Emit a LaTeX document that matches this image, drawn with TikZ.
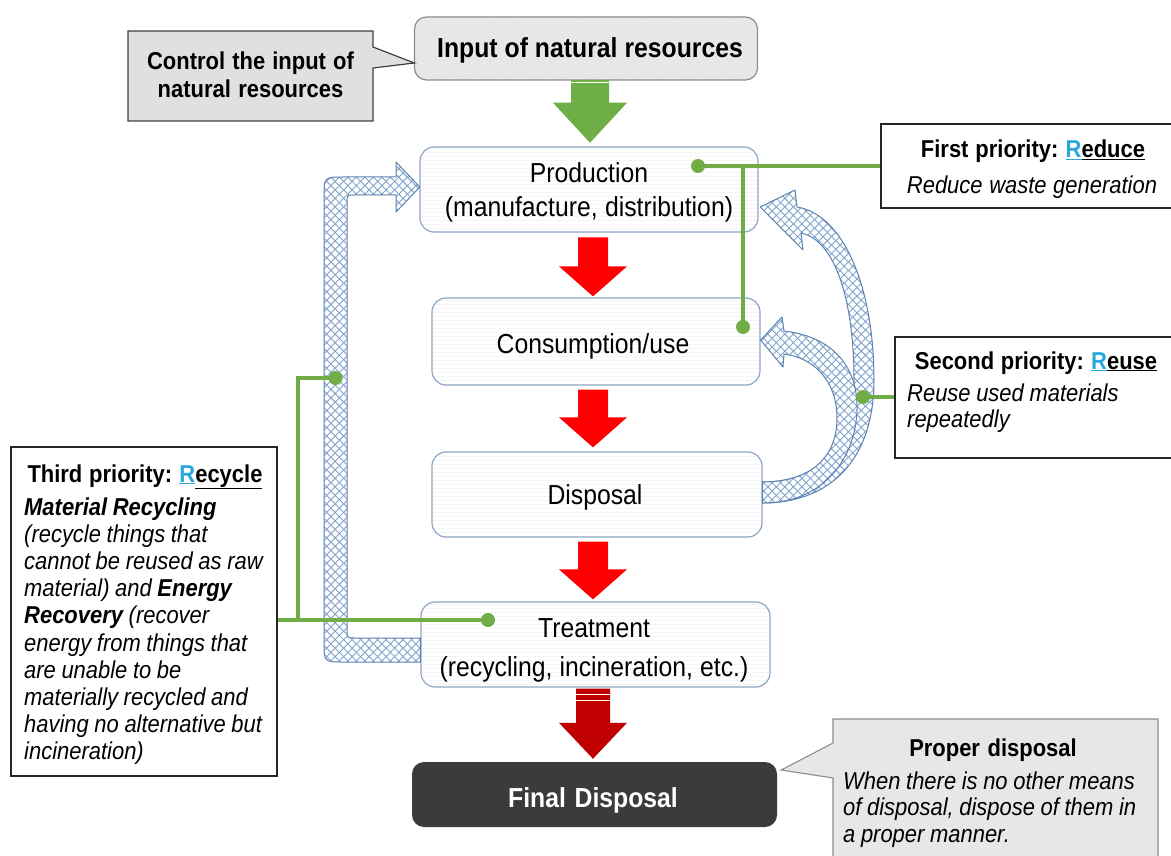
\documentclass[tikz,border=0pt]{standalone}
\usepackage{fontspec}
\setmainfont{Liberation Sans}[FakeStretch=0.9]
\usetikzlibrary{calc,patterns.meta}

\definecolor{gline}{HTML}{70AD47}
\definecolor{garrow}{HTML}{6FAE46}
\definecolor{rarrow}{HTML}{FF0000}
\definecolor{darkred}{HTML}{C00000}
\definecolor{boxedge}{HTML}{8EA6C4}
\definecolor{hatchc}{HTML}{7FA3CC}
\definecolor{hatchedge}{HTML}{5B82B0}
\definecolor{rblue}{HTML}{29A8DF}
\definecolor{finalbg}{HTML}{3B3B3B}
\definecolor{ctrlgray}{HTML}{E0E0E0}
\definecolor{propergray}{HTML}{E8E7E7}

% condensed face: tighten the interword space to match the narrower glyphs
\newcommand\tightspace{\spaceskip=0.23em plus 0.05em minus 0.03em\xspaceskip=0.3em\relax}
\newcommand\fsz[2]{\fontsize{#1}{#2}\selectfont}
\newcommand\bigfont{\fsz{27.5}{34}}
\newcommand\smallfont{\fsz{24.4}{27.2}}
% coloured, underlined initial of the 3R keywords
\newcommand\Rw[2]{\textcolor{rblue}{\underline{#1}}\underline{#2}}

% fat downward arrow between two boxes:
% style, x, upper node, lower node, top gap, tip gap, shaft half width, head half width, head length
\newcommand\blockdown[9]{%
  \coordinate (bt) at ($(#2,0 |- #3.south)+(0,#5)$);
  \coordinate (bp) at ($(#2,0 |- #4.north)+(0,-#6)$);
  \fill[#1] ($(bt)+(-#7,0)$) -- ($(bt)+(#7,0)$) -- ($(bp)+(#7,-#9)$) -- ($(bp)+(#8,-#9)$)
    -- (bp) -- ($(bp)+(-#8,-#9)$) -- ($(bp)+(-#7,-#9)$) -- cycle;}

\begin{document}
\begin{tikzpicture}[x=1pt,y=-1pt,
  mainbox/.style={draw=boxedge, line width=1.2pt, rounded corners=14pt, inner sep=0pt,
    preaction={fill=white},
    pattern={Lines[angle=0,distance=4pt,line width=0.5pt]}, pattern color=black!7},
  inputbox/.style={draw=black!45, line width=1.2pt, rounded corners=12pt, inner sep=0pt,
    preaction={fill=black!10},
    pattern={Lines[angle=45,distance=2.5pt,line width=0.4pt]}, pattern color=black!6},
  finalbox/.style={fill=finalbg, rounded corners=12pt, inner sep=0pt},
  notebox/.style={draw=black!85, line width=1.1pt, fill=white, inner sep=0pt},
  ctrlbox/.style={draw=black!75, line width=1.2pt, fill=ctrlgray},
  properbox/.style={draw=black!45, line width=1.1pt, fill=propergray},
  hatch/.style={preaction={fill=white},
    preaction={pattern={Lines[angle=45,distance=6pt,line width=0.9pt]}, pattern color=hatchc},
    preaction={pattern={Lines[angle=-45,distance=6pt,line width=0.9pt]}, pattern color=hatchc},
    draw=hatchedge, line width=1pt, line join=round},
  gconn/.style={draw=gline, line width=4pt},
  gdot/.style={circle, fill=gline, minimum size=14pt, inner sep=0pt},
  txt/.style={inner sep=0pt, anchor=base, execute at begin node=\tightspace},
  bigtxt/.style={txt, font=\bigfont, align=center, text width=360pt},
  smalltxt/.style={txt, font=\smallfont, align=center, text width=330pt},
  bodytxt/.style={inner sep=0pt, anchor=base west, align=left, font=\smallfont\itshape,
    execute at begin node=\tightspace}]

\useasboundingbox (0,0) rectangle (1171,856);
\fill[white] (0,0) rectangle (1171,856);

% ---------- main flow boxes ----------
\node[inputbox, minimum width=343pt, minimum height=63pt] (input) at (586,48.5) {};
\node[mainbox, minimum width=338pt, minimum height=85pt] (prod) at (589,189.5) {};
\node[mainbox, minimum width=328pt, minimum height=87pt] (cons) at (596,341.5) {};
\node[mainbox, minimum width=330pt, minimum height=85pt] (disp) at (597,494.5) {};
\node[mainbox, minimum width=349pt, minimum height=85pt] (treat) at (595.5,644.5) {};
\node[finalbox, minimum width=365pt, minimum height=65pt] (final) at (594.5,794.5) {};

% ---------- note boxes ----------
\node[notebox, minimum width=310pt, minimum height=84pt] (first) at (1036,166) {};
\node[notebox, minimum width=295pt, minimum height=121pt] (second) at (1042.5,397.5) {};
\node[notebox, minimum width=266pt, minimum height=329pt] (third) at (144,611.5) {};

% ---------- callouts ----------
\path[ctrlbox] (128,31) -- (373,31) -- (373,47) -- (input.west |- 0,63) -- (373,68)
  -- (373,121) -- (128,121) -- cycle;
\path[properbox] (833,719) -- (1158,719) -- (1158,870) -- (833,870) -- (833,778)
  -- ($(final.east |- 0,770)+(4,0)$) -- (833,743) -- cycle;

% ---------- hatched loop arrows ----------
% recycling loop: treatment back to production
\path[hatch] (treat.west |- 0,638) -- (355,638) .. controls (347,638) .. (347,630)
  -- (347,203) .. controls (347,195) .. (355,195) -- (396,195) -- (396,212)
  -- (prod.west |- 0,187) -- (396,162) -- (396,177) -- (344,177)
  .. controls (324,177) .. (324,197) -- (324,642) .. controls (324,662) .. (344,662)
  -- (treat.west |- 0,662) -- cycle;
% reuse loop: disposal back to production
\path[hatch] (disp.east |- 0,503) .. controls (830,503) and (874,460) .. (874,380)
  .. controls (874,290) and (845,215) .. (797,207) -- (795,190)
  -- ($(prod.east |- 0,207)+(2,0)$) -- (803,250) -- (801,233)
  .. controls (835,240) and (854,300) .. (854,380)
  .. controls (854,445) and (820,482) .. (disp.east |- 0,482) -- cycle;
% reuse loop: disposal back to consumption
\path[hatch] (disp.east |- 0,503) .. controls (830,503) and (858,450) .. (857,405)
  .. controls (856,362) and (828,336) .. (784,331) -- (782,317)
  -- (cons.east |- 0,340) -- (783,367) -- (784,354)
  .. controls (815,358) and (837,382) .. (837,418)
  .. controls (837,458) and (810,482) .. (disp.east |- 0,482) -- cycle;

% ---------- block arrows ----------
\blockdown{fill=garrow}{590}{input}{prod}{0}{4}{19}{37}{40}
\blockdown{fill=rarrow}{593}{prod}{cons}{5}{1}{15}{34}{30}
\blockdown{fill=rarrow}{593}{cons}{disp}{4}{4}{15}{34}{30}
\blockdown{fill=rarrow}{593}{disp}{treat}{4}{2}{15}{34}{30}
\blockdown{fill=darkred}{593}{treat}{final}{1}{3}{17}{34}{36}
\draw[white, line width=1.5pt] ($(593,0 |- treat.south)+(-17,7)$) -- ++(34,0);
\draw[white, line width=1.5pt] ($(593,0 |- treat.south)+(-17,13)$) -- ++(34,0);
\draw[white, line width=1.2pt] ($(590,0 |- input.south)+(-19,2)$) -- ++(38,0);

% ---------- green leader lines ----------
\coordinate (pd) at (698,166);
\coordinate (cd) at (743,327);
\coordinate (rd) at (863,397);
\coordinate (td) at (488,620);
\coordinate (ld) at (335.5,378);
\coordinate (lj) at (298,620);
\draw[gconn] (pd) -- (pd -| first.west);
\draw[gconn] (cd) -- (cd |- pd);
\draw[gconn] (rd) -- (rd -| second.west);
\draw[gconn] (td) -- (td -| third.east);
\draw[gconn] (ld) -| (lj);
\node[gdot] (pdot) at (pd) {};
\node[gdot] (cdot) at (cd) {};
\node[gdot] (rdot) at (rd) {};
\node[gdot] (tdot) at (td) {};
\node[gdot] (ldot) at (ld) {};

% ---------- texts ----------
\node[bigtxt, font=\bigfont\bfseries] (inputtext) at (590,58) {Input of natural resources};
\node[smalltxt, font=\fsz{24.4}{28}\bfseries] (ctrltext) at (250.5,70)
  {Control the input of\\natural resources};
\node[bigtxt] (prodtext) at (589,183) {Production\\(manufacture, distribution)};
\node[bigtxt] (constext) at (593,353) {Consumption/use};
\node[bigtxt] (disptext) at (595,504) {Disposal};
\node[bigtxt, font=\fsz{27.5}{39}] (treattext) at (594,637)
  {Treatment\\(recycling, incineration, etc.)};
\node[bigtxt, font=\bigfont\bfseries, text=white] (finaltext) at (593,807) {Final Disposal};

\node[smalltxt, font=\smallfont\bfseries] (firsttitle) at (1033,158)
  {First priority: \Rw{R}{educe}};
\node[smalltxt, font=\smallfont\itshape] (firstbody) at (1032,194) {Reduce waste generation};

\node[smalltxt, font=\smallfont\bfseries] (secondtitle) at (1036,369)
  {Second priority: \Rw{R}{euse}};
\node[bodytxt, text width=250pt, font=\fsz{24.4}{26}\itshape] (secondbody) at (907,401)
  {Reuse used materials\\repeatedly};

\node[smalltxt, font=\smallfont\bfseries] (thirdtitle) at (145,482)
  {Third priority: \Rw{R}{ecycle}};
\node[bodytxt, text width=255pt] (thirdbody) at (24,515)
  {\textbf{Material Recycling}\\(recycle things that\\cannot be reused as raw\\material) and \textbf{Energy}\\\textbf{Recovery} (recover\\energy from things that\\are unable to be\\materially recycled and\\having no alternative but\\incineration)};

\node[smalltxt, font=\smallfont\bfseries] (propertitle) at (993,756) {Proper disposal};
\node[bodytxt, text width=320pt, font=\fsz{24.4}{26.5}\itshape] (properbody) at (843,789)
  {When there is no other means\\of disposal, dispose of them in\\a proper manner.};
\end{tikzpicture}
\end{document}
